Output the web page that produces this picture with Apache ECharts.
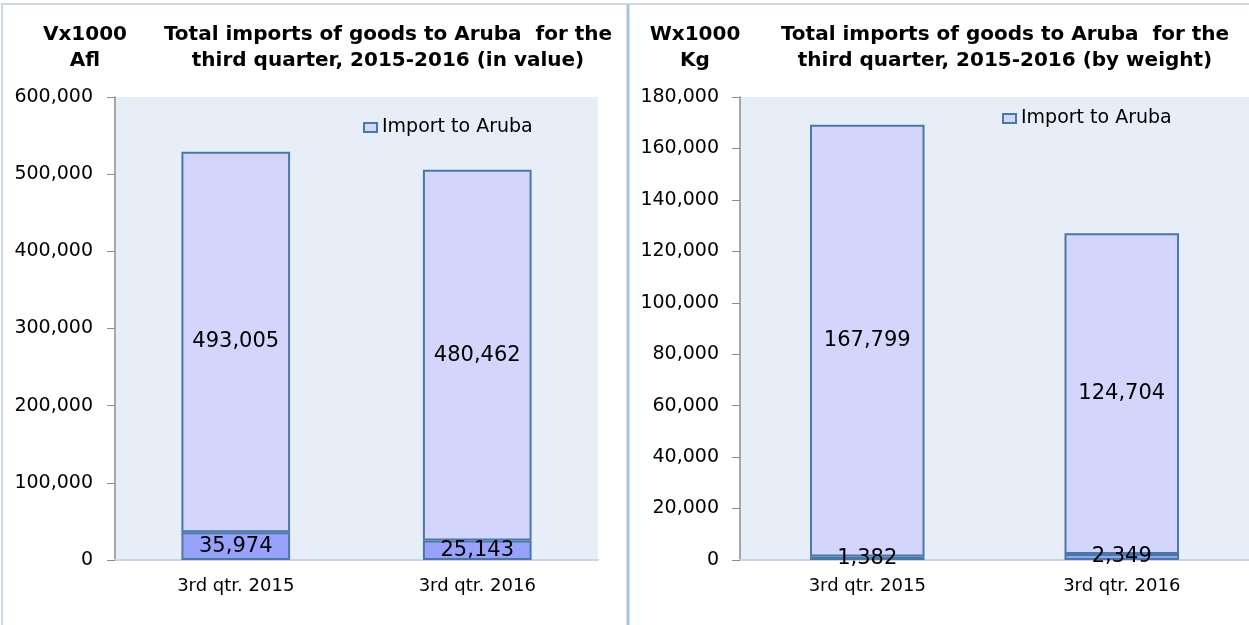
<!DOCTYPE html>
<html>
<head>
<meta charset="utf-8">
<script src="https://cdn.jsdelivr.net/npm/echarts@6/dist/echarts.min.js"></script>
<style>
  html, body { margin: 0; padding: 0; background: #fff; }
  #main { width: 1249px; height: 625px; }
</style>
</head>
<body>
<div id="main"></div>
<script>
  // categories and values
  var categories = ['3rd qtr. 2015', '3rd qtr. 2016']
  var valueBase = [35974, 25143]
  var valueImport = [493005, 480462]
  var weightBase = [1382, 2349]
  var weightImport = [167799, 124704]
  var valueTicks = { min: 0, max: 600000, interval: 100000 }
  var weightTicks = { min: 0, max: 180000, interval: 20000 }

  var fmt = function (v) { return Number(v).toLocaleString('en-US') }
  var font = 'DejaVu Sans'

  var myChart = echarts.init(document.getElementById('main'))

  function yAxis(idx, t, margin) {
    return {
      type: 'value', gridIndex: idx, min: t.min, max: t.max, interval: t.interval,
      axisLine: { show: true, lineStyle: { color: '#8c8c8c', width: 1.5 } },
      axisTick: { show: true, length: 8, lineStyle: { color: '#8c8c8c' } },
      splitLine: { show: false },
      axisLabel: { color: '#000', fontSize: 19, fontFamily: font, margin: margin, formatter: fmt }
    }
  }
  function xAxis(idx) {
    return {
      type: 'category', gridIndex: idx, data: categories,
      axisLine: { show: true, lineStyle: { color: '#c6d6ea', width: 2 } },
      axisTick: { show: false },
      axisLabel: { color: '#000', fontSize: 18, fontFamily: font, margin: 17 }
    }
  }
  function bar(name, idx, stack, data, fill) {
    return {
      name: name, type: 'bar', xAxisIndex: idx, yAxisIndex: idx, stack: stack,
      data: data, barWidth: '45%',
      itemStyle: { color: fill, borderColor: '#4a78a6', borderWidth: 2 },
      label: {
        show: true, position: 'inside', color: '#000', fontSize: 21, fontFamily: font,
        formatter: function (p) { return fmt(p.value) }
      }
    }
  }
  function title(text, x, size) {
    return { text: text, left: x, top: 17, textAlign: 'center',
      textStyle: { fontSize: size, fontWeight: 'bold', fontFamily: font, lineHeight: 26, color: '#000' } }
  }
  function legend(x, y) {
    return { data: ['Import to Aruba'], left: x, top: y, icon: 'rect', itemWidth: 13, itemHeight: 9, itemGap: 5,
      textStyle: { fontSize: 19, fontFamily: font, color: '#000' } }
  }

  var option = {
    animation: false,
    title: [
      title('Vx1000\nAfl', 80, 20),
      title('Total imports of goods to Aruba  for the\nthird quarter, 2015-2016 (in value)', 383, 20),
      title('Wx1000\nKg', 690, 20),
      title('Total imports of goods to Aruba  for the\nthird quarter, 2015-2016 (by weight)', 1000, 20)
    ],
    legend: [legend(358, 113), legend(997, 104)],
    grid: [
      { left: 115, top: 97, width: 483, height: 463, show: true, backgroundColor: '#e8eef7', borderWidth: 0 },
      { left: 740, top: 97, width: 509, height: 463, show: true, backgroundColor: '#e8eef7', borderWidth: 0 }
    ],
    xAxis: [xAxis(0), xAxis(1)],
    yAxis: [yAxis(0, valueTicks, 22), yAxis(1, weightTicks, 21)],
    series: [
      bar('Import base', 0, 'v', valueBase, '#99a2fb'),
      bar('Import to Aruba', 0, 'v', valueImport, '#d3d5fc'),
      bar('Import base', 1, 'w', weightBase, '#99a2fb'),
      bar('Import to Aruba', 1, 'w', weightImport, '#d3d5fc')
    ],
    graphic: [
      { type: 'rect', shape: { x: 2, y: 4, width: 1260, height: 640 }, style: { fill: 'none', stroke: '#cfd9e4', lineWidth: 2 } },
      { type: 'line', shape: { x1: 628, y1: 4, x2: 628, y2: 625 }, style: { stroke: '#a9c3df', lineWidth: 3 } }
    ]
  }

  option && myChart.setOption(option)
</script>
</body>
</html>
